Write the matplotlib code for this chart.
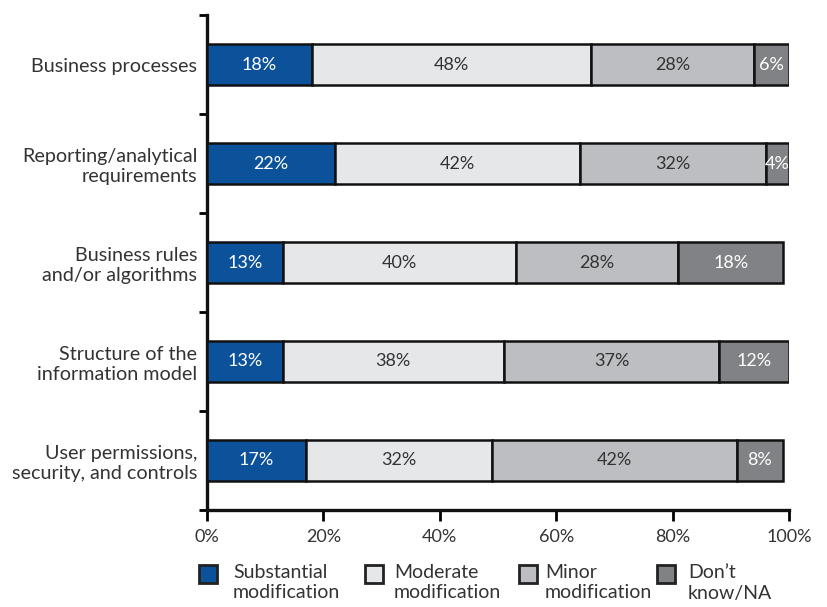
import matplotlib
matplotlib.use("Agg")
import matplotlib.pyplot as plt
from matplotlib.patches import Rectangle

plt.rcParams["font.family"] = ["Lato", "DejaVu Sans"]

# Survey results: share of respondents per category (percent)
categories = [
    "Business processes",
    "Reporting/analytical\nrequirements",
    "Business rules\nand/or algorithms",
    "Structure of the\ninformation model",
    "User permissions,\nsecurity, and controls",
]
substantial = [18, 22, 13, 13, 17]
moderate = [48, 42, 40, 38, 32]
minor = [28, 32, 28, 37, 42]
dont_know = [6, 4, 18, 12, 8]

series_names = ["Substantial\nmodification", "Moderate\nmodification",
                "Minor\nmodification", "Don\u2019t\nknow/NA"]
series_values = [substantial, moderate, minor, dont_know]
colors = ["#0b529b", "#e6e7e9", "#bdbec1", "#808285"]
label_colors = ["white", "#333333", "#333333", "white"]
text_color = "#333333"

fig = plt.figure(figsize=(8.28, 6.07), dpi=100)
ax = fig.add_axes([0.25, 0.16, 0.703, 0.815])

ypos = list(range(len(categories)))[::-1]
left = [0] * len(categories)
for vals, col, lc in zip(series_values, colors, label_colors):
    bars = ax.barh(ypos, vals, left=left, height=0.42, color=col,
                   edgecolor="#111111", linewidth=1.8, zorder=3)
    for b, v in zip(bars, vals):
        ax.text(b.get_x() + b.get_width() / 2, b.get_y() + b.get_height() / 2,
                f"{v}%", ha="center", va="center", color=lc, fontsize=13,
                zorder=4)
    left = [l + v for l, v in zip(left, vals)]

ax.set_xlim(0, 100)
ax.set_ylim(-0.5, 4.5)
ax.set_xticks(range(0, 101, 20))
ax.set_xticklabels([f"{x}%" for x in range(0, 101, 20)], color=text_color,
                   fontsize=13)

# category names sit between the boundary ticks
ax.set_yticks([y + 0.5 for y in range(-1, 5)])
ax.set_yticklabels([])
ax.set_yticks(ypos, minor=True)
ax.set_yticklabels(categories, minor=True, fontsize=14.2, color=text_color,
                   linespacing=1.2)
ax.tick_params(axis="y", which="minor", length=0, pad=7)
ax.tick_params(axis="y", which="major", length=6, width=2, direction="out")
ax.tick_params(axis="x", length=8, width=2, direction="out", pad=6)

for s in ["top", "right"]:
    ax.spines[s].set_visible(False)
for s in ["left", "bottom"]:
    ax.spines[s].set_linewidth(2.4)
    ax.spines[s].set_color("#111111")

# legend drawn as squares and two-line labels below the axis
W, H = 828, 607
sq_x = [199, 365, 519, 657]
txt_x = [233, 394, 545, 688]
sq_top, sq_size = 565, 18
for name, col, sx, tx in zip(series_names, colors, sq_x, txt_x):
    fig.add_artist(Rectangle((sx / W, 1 - (sq_top + sq_size) / H),
                             sq_size / W, sq_size / H, facecolor=col,
                             edgecolor="#222222", linewidth=2,
                             transform=fig.transFigure))
    fig.text(tx / W, 1 - 564 / H, name, ha="left", va="top", fontsize=14,
             color=text_color, linespacing=1.25)

fig.savefig("out.png", dpi=100)
